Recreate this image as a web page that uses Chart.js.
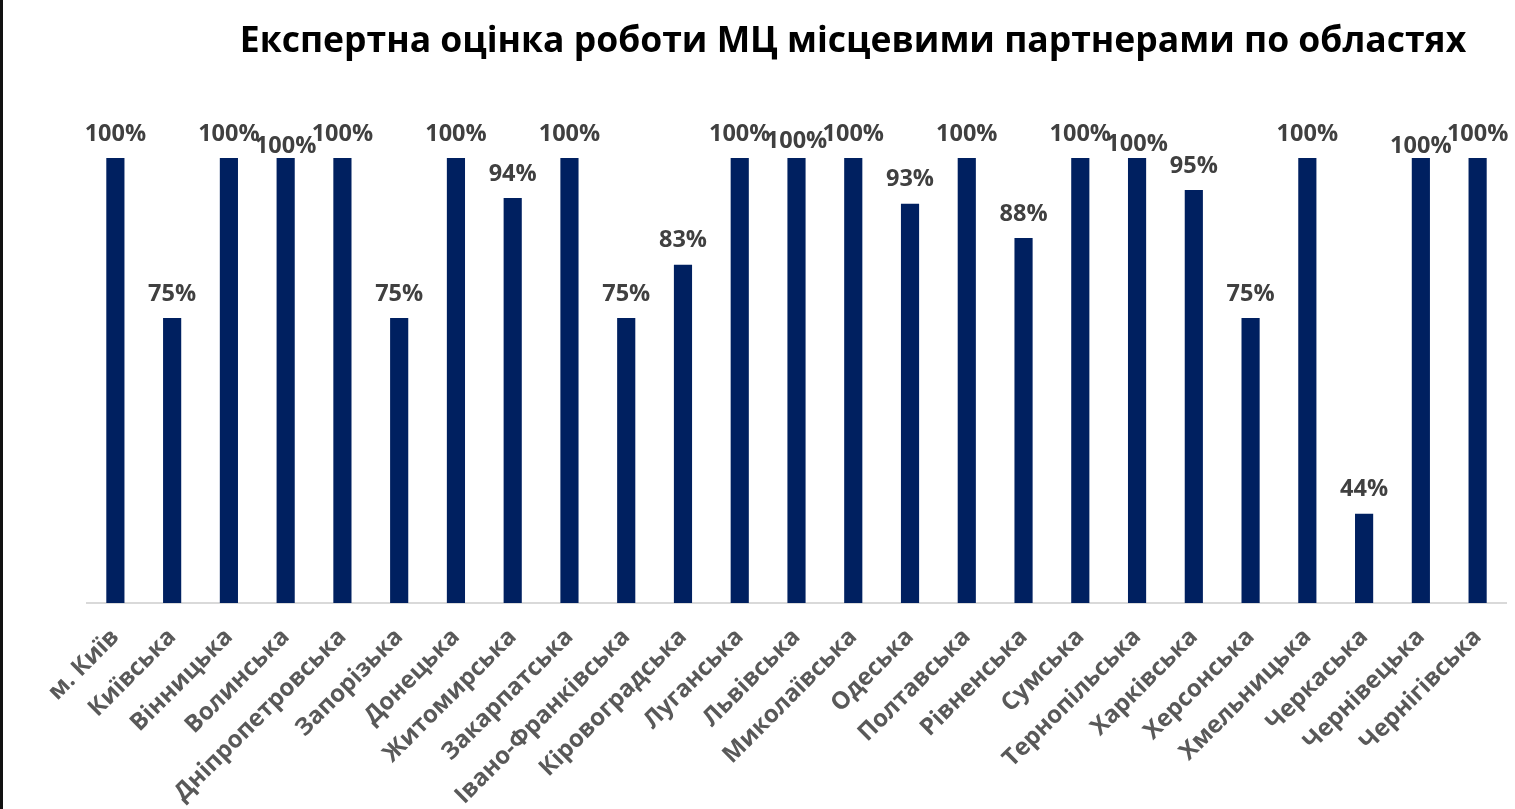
<!DOCTYPE html>
<html>
<head>
<meta charset="utf-8">
<script src="https://cdn.jsdelivr.net/npm/chart.js@4.4.1/dist/chart.umd.min.js"></script>
<style>
    html, body { margin: 0; padding: 0; background: #fff; }
    body { width: 1515px; height: 809px; overflow: hidden; }
    .chart { position: relative; width: 1515px; height: 809px; border-left: 3px solid #111; box-sizing: border-box; }
</style>
</head>
<body>
<div class="chart">
    <canvas id="canva"></canvas>
</div>
<script>
const chartTitle = 'Експертна оцінка роботи МЦ місцевими партнерами по областях';

const regions = [
    'м. Київ', 'Київська', 'Вінницька', 'Волинська', 'Дніпропетровська',
    'Запорізька', 'Донецька', 'Житомирська', 'Закарпатська', 'Івано-Франківська',
    'Кіровоградська', 'Луганська', 'Львівська', 'Миколаївська', 'Одеська',
    'Полтавська', 'Рівненська', 'Сумська', 'Тернопільська', 'Харківська',
    'Херсонська', 'Хмельницька', 'Черкаська', 'Чернівецька', 'Чернігівська',
];

// оцінка, %
const scores = [
    100, 75, 100, 100, 100,
    75, 100, 93.75, 100, 75,
    83.33, 100, 100, 100, 92.86,
    100, 87.5, 100, 100, 95,
    75, 100, 44.44, 100, 100,
];

// labels pushed down a bit where they would collide (like Excel does)
const labelNudge = { 3: 12, 12: 7, 18: 10, 23: 12 };

const labelsPlugin = {
    id: 'labelsPlugin',
    afterDatasetsDraw(chart) {
        const ctx = chart.ctx;
        const meta = chart.getDatasetMeta(0);
        ctx.save();
        ctx.font = 'bold 23.5px "Open Sans"';
        ctx.fillStyle = '#404040';
        ctx.textAlign = 'center';
        ctx.textBaseline = 'middle';
        meta.data.forEach((bar, i) => {
            const dy = labelNudge[i] || 0;
            ctx.fillText(Math.round(scores[i]) + '%', bar.x, bar.y - 24 + dy);
        });
        ctx.font = 'bold 35.5px "Open Sans"';
        ctx.fillStyle = '#000';
        ctx.fillText(chartTitle, 850, 42);
        ctx.restore();
    },
};

const canvas = document.querySelector('#canva').getContext('2d');
new Chart(canvas, {
    type: 'bar',
    data: {
        labels: regions,
        datasets: [
            {
                data: scores,
                backgroundColor: '#002060',
                barPercentage: 0.64,
                categoryPercentage: 0.5,
            },
        ],
    },
    options: {
        responsive: true,
        maintainAspectRatio: false,
        animation: false,
        layout: {
            padding: { left: 84, right: 9, top: 158, bottom: 0 },
        },
        scales: {
            x: {
                grid: { display: false },
                border: { display: true, color: '#d9d9d9', width: 2 },
                ticks: {
                    minRotation: 45,
                    maxRotation: 45,
                    padding: 12,
                    color: '#595959',
                    font: { family: 'Open Sans', size: 24, weight: 'bold' },
                },
                afterFit: (scale) => {
                    scale.height = 206;
                },
            },
            y: {
                display: false,
                min: 30.5,
                max: 100,
            },
        },
        plugins: {
            legend: { display: false },
            title: { display: false },
            tooltip: { enabled: false },
        },
    },
    plugins: [labelsPlugin],
});
</script>
</body>
</html>
